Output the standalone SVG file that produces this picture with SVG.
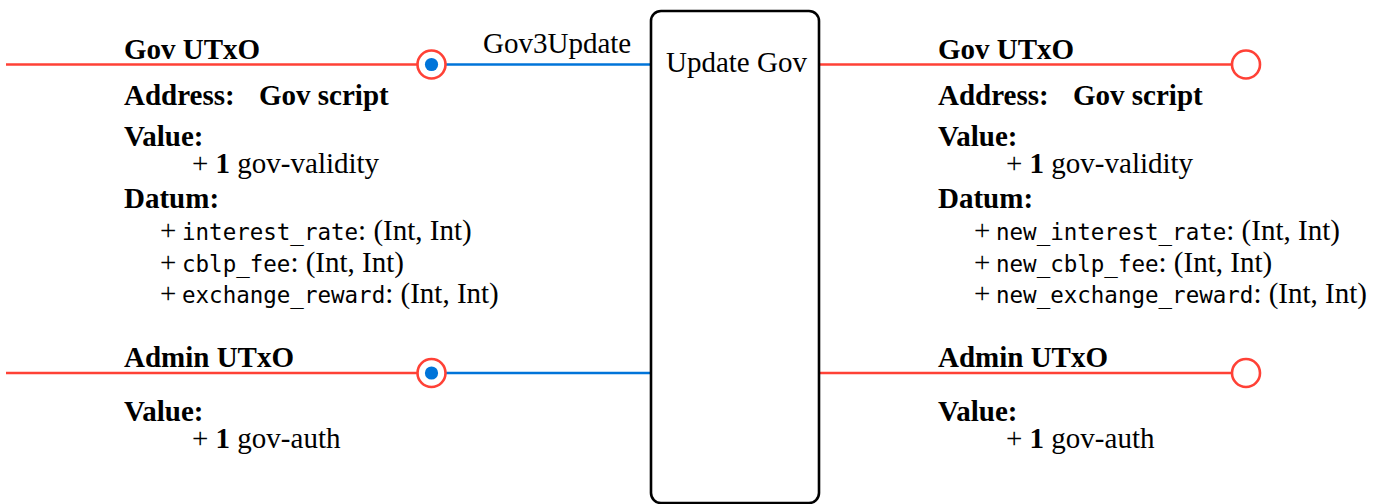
<svg xmlns="http://www.w3.org/2000/svg" width="1392" height="504" viewBox="0 0 1392 504">
  <style>
    text { font-family: "Liberation Serif", "Times New Roman", serif; font-size: 29px; fill: #000; }
    .b { font-weight: bold; }
    .mono { font-family: "DejaVu Sans Mono", "Liberation Mono", monospace; font-size: 22.5px; }
    .utxo { stroke: #ff4136; stroke-width: 2.4; fill: none; }
    .redeem { stroke: #0074d9; stroke-width: 2.4; fill: none; }
    .port { stroke: #ff4136; stroke-width: 2.6; fill: #fff; }
    .dot { fill: #0074d9; }
    .tx { fill: #fff; stroke: #000; stroke-width: 2.6; }
  </style>

  <!-- wires, ports and the redeemer label -->
  <g id="connectors">
    <line class="utxo" x1="6" y1="64.5" x2="418" y2="64.5"/>
    <line class="redeem" x1="432" y1="64.5" x2="651" y2="64.5"/>
    <line class="utxo" x1="6" y1="373" x2="418" y2="373"/>
    <line class="redeem" x1="432" y1="373" x2="651" y2="373"/>
    <line class="utxo" x1="820" y1="64.5" x2="1232" y2="64.5"/>
    <line class="utxo" x1="820" y1="373" x2="1232" y2="373"/>

    <circle class="port" cx="431.5" cy="64.5" r="14"/>
    <circle class="dot" cx="431.5" cy="64.5" r="6.6"/>
    <circle class="port" cx="431.5" cy="373" r="14"/>
    <circle class="dot" cx="431.5" cy="373" r="6.6"/>
    <circle class="port" cx="1246" cy="64.5" r="14"/>
    <circle class="port" cx="1246" cy="373" r="14"/>

    <text x="483" y="53">Gov3Update</text>
  </g>

  <!-- transaction -->
  <g id="update-gov">
    <rect class="tx" x="651" y="11" width="168" height="492" rx="10"/>
    <text x="666" y="72">Update Gov</text>
  </g>

  <!-- consumed inputs -->
  <g id="gov-utxo-in">
    <text class="b" x="124" y="59">Gov UTxO</text>
    <text class="b" x="124" y="105">Address:</text>
    <text class="b" x="259" y="105">Gov script</text>
    <text class="b" x="124" y="146">Value:</text>
    <text x="192" y="173">+ <tspan class="b">1</tspan> gov-validity</text>
    <text class="b" x="124" y="208">Datum:</text>
    <text x="160" y="240">+<tspan class="mono" x="182">interest_rate</tspan>: (Int, Int)</text>
    <text x="160" y="272">+<tspan class="mono" x="182">cblp_fee</tspan>: (Int, Int)</text>
    <text x="160" y="303">+<tspan class="mono" x="182">exchange_reward</tspan>: (Int, Int)</text>
  </g>

  <g id="admin-utxo-in">
    <text class="b" x="124" y="367">Admin UTxO</text>
    <text class="b" x="124" y="421">Value:</text>
    <text x="192" y="448">+ <tspan class="b">1</tspan> gov-auth</text>
  </g>

  <!-- produced outputs -->
  <g id="gov-utxo-out">
    <text class="b" x="938" y="59">Gov UTxO</text>
    <text class="b" x="938" y="105">Address:</text>
    <text class="b" x="1073" y="105">Gov script</text>
    <text class="b" x="938" y="146">Value:</text>
    <text x="1006" y="173">+ <tspan class="b">1</tspan> gov-validity</text>
    <text class="b" x="938" y="208">Datum:</text>
    <text x="974" y="240">+<tspan class="mono" x="996">new_interest_rate</tspan>: (Int, Int)</text>
    <text x="974" y="272">+<tspan class="mono" x="996">new_cblp_fee</tspan>: (Int, Int)</text>
    <text x="974" y="303">+<tspan class="mono" x="996">new_exchange_reward</tspan>: (Int, Int)</text>
  </g>

  <g id="admin-utxo-out">
    <text class="b" x="938" y="367">Admin UTxO</text>
    <text class="b" x="938" y="421">Value:</text>
    <text x="1006" y="448">+ <tspan class="b">1</tspan> gov-auth</text>
  </g>
</svg>
